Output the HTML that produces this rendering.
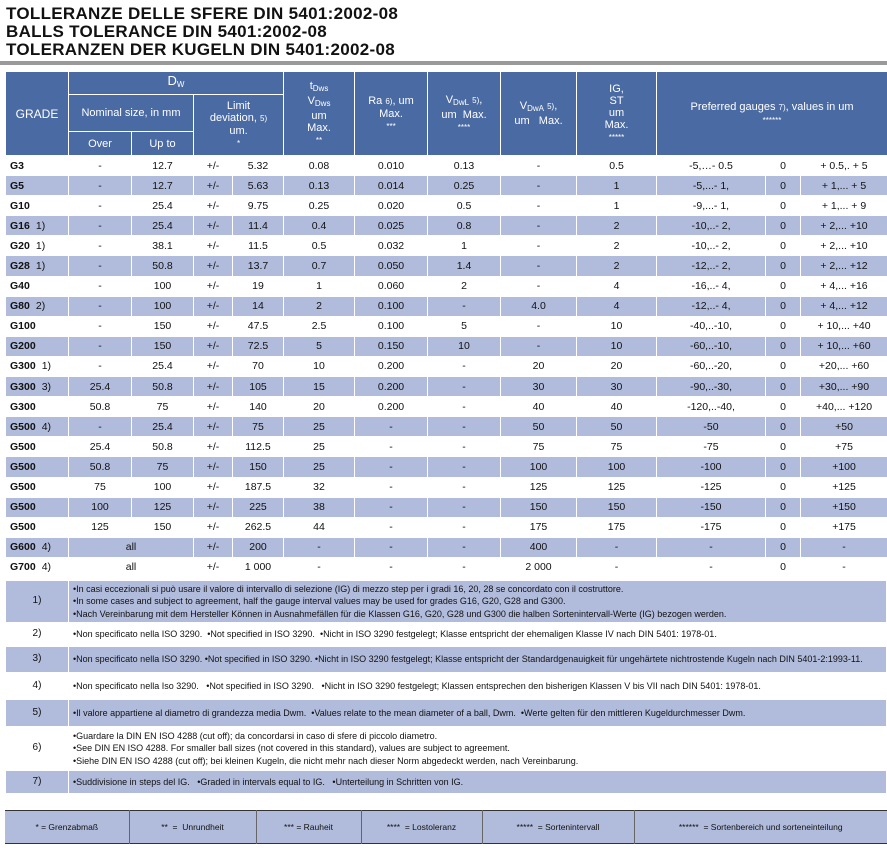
<!DOCTYPE html>
<html><head><meta charset="utf-8">
<style>
*{margin:0;padding:0;box-sizing:border-box}
body{width:887px;height:848px;background:#fff;font-family:"Liberation Sans",sans-serif;position:relative;overflow:hidden;color:#111}
.t{position:absolute;left:6px;font-weight:bold;font-size:17px;letter-spacing:0.3px;line-height:18px}
.bar{position:absolute;left:0;top:61px;width:887px;height:4px;background:#9a9a9a}
table{border-collapse:collapse;position:absolute;table-layout:fixed}
#m{left:5px;top:71px;width:882px}
#m td,#m th{border:1px solid #fff;text-align:center;font-size:10.5px;padding:0;overflow:hidden;white-space:nowrap}
#m th{background:#4a6aa3;color:#fff;font-weight:normal;font-size:11px;line-height:12px}
#m tr.d td{height:20.1px}
#m tr.s td{background:#b1bcdc}
#m td.g{text-align:left;padding-left:4px;font-weight:bold}
#m td.g span{font-weight:normal;margin-left:6px}
sub{font-size:8px;vertical-align:-2px}
.st{font-size:8px}
#n{left:5px;top:580px;width:882px}
#n td{border:1px solid #fff;font-family:"Liberation Sans Narrow","Liberation Sans",sans-serif;font-size:9px;line-height:12.5px;white-space:nowrap;overflow:hidden}
#n td.l{width:63px;text-align:center;font-size:10px}
#n td.x{padding-left:4px}
#n tr.s td{background:#b1bcdc}
#f{left:5px;top:810px;width:882px;border-top:1.5px solid #333;border-bottom:1.5px solid #333}
#f td{background:#b1bcdc;height:33px;text-align:center;font-size:8.5px;font-family:"Liberation Sans Narrow","Liberation Sans",sans-serif;border-left:1px solid #666}
#f td:first-child{border-left:none}
</style></head><body>
<div class="t" style="top:5px">TOLLERANZE DELLE SFERE DIN 5401:2002-08</div>
<div class="t" style="top:23px">BALLS TOLERANCE DIN 5401:2002-08</div>
<div class="t" style="top:41px">TOLERANZEN DER KUGELN DIN 5401:2002-08</div>
<div class="bar"></div>
<table id="m">
<colgroup><col style="width:63px"><col style="width:63px"><col style="width:62px"><col style="width:39px"><col style="width:51px"><col style="width:71px"><col style="width:73px"><col style="width:73px"><col style="width:76px"><col style="width:80px"><col style="width:109px"><col style="width:35px"><col style="width:87px"></colgroup>
<tr style="height:23px"><th rowspan="3" style="font-size:12px">GRADE</th><th colspan="4" style="font-size:13px">D<sub>W</sub></th><th rowspan="3">t<sub>Dws</sub><br>V<sub>Dws</sub><br>um<br>Max.<br><span class="st">**</span></th><th rowspan="3">Ra <span class="st">6)</span>, um<br>Max.<br><span class="st">***</span></th><th rowspan="3">V<sub>DwL</sub> <span class="st">5)</span>,<br>um &nbsp;Max.<br><span class="st">****</span></th><th rowspan="3">V<sub>DwA</sub> <span class="st">5)</span>,<br>um &nbsp; Max.</th><th rowspan="3">IG,<br>ST<br>um<br>Max.<br><span class="st">*****</span></th><th rowspan="3" colspan="3">Preferred gauges <span class="st">7)</span>, values in um<br><span class="st">******</span></th></tr>
<tr style="height:37px"><th colspan="2">Nominal size, in mm</th><th colspan="2" rowspan="2">Limit<br>deviation, <span class="st">5)</span><br>um.<br><span class="st">*</span></th></tr>
<tr style="height:24px"><th>Over</th><th>Up to</th></tr>
<tr class="d"><td class="g">G3</td><td>-</td><td>12.7</td><td>+/-</td><td>5.32</td><td>0.08</td><td>0.010</td><td>0.13</td><td>-</td><td>0.5</td><td>-5,…- 0.5</td><td>0</td><td>+ 0.5,. + 5</td></tr>
<tr class="d s"><td class="g">G5</td><td>-</td><td>12.7</td><td>+/-</td><td>5.63</td><td>0.13</td><td>0.014</td><td>0.25</td><td>-</td><td>1</td><td>-5,...- 1,</td><td>0</td><td>+ 1,... + 5</td></tr>
<tr class="d"><td class="g">G10</td><td>-</td><td>25.4</td><td>+/-</td><td>9.75</td><td>0.25</td><td>0.020</td><td>0.5</td><td>-</td><td>1</td><td>-9,...- 1,</td><td>0</td><td>+ 1,... + 9</td></tr>
<tr class="d s"><td class="g">G16<span>1)</span></td><td>-</td><td>25.4</td><td>+/-</td><td>11.4</td><td>0.4</td><td>0.025</td><td>0.8</td><td>-</td><td>2</td><td>-10,..- 2,</td><td>0</td><td>+ 2,... +10</td></tr>
<tr class="d"><td class="g">G20<span>1)</span></td><td>-</td><td>38.1</td><td>+/-</td><td>11.5</td><td>0.5</td><td>0.032</td><td>1</td><td>-</td><td>2</td><td>-10,..- 2,</td><td>0</td><td>+ 2,... +10</td></tr>
<tr class="d s"><td class="g">G28<span>1)</span></td><td>-</td><td>50.8</td><td>+/-</td><td>13.7</td><td>0.7</td><td>0.050</td><td>1.4</td><td>-</td><td>2</td><td>-12,..- 2,</td><td>0</td><td>+ 2,... +12</td></tr>
<tr class="d"><td class="g">G40</td><td>-</td><td>100</td><td>+/-</td><td>19</td><td>1</td><td>0.060</td><td>2</td><td>-</td><td>4</td><td>-16,..- 4,</td><td>0</td><td>+ 4,... +16</td></tr>
<tr class="d s"><td class="g">G80<span>2)</span></td><td>-</td><td>100</td><td>+/-</td><td>14</td><td>2</td><td>0.100</td><td>-</td><td>4.0</td><td>4</td><td>-12,..- 4,</td><td>0</td><td>+ 4,... +12</td></tr>
<tr class="d"><td class="g">G100</td><td>-</td><td>150</td><td>+/-</td><td>47.5</td><td>2.5</td><td>0.100</td><td>5</td><td>-</td><td>10</td><td>-40,..-10,</td><td>0</td><td>+ 10,... +40</td></tr>
<tr class="d s"><td class="g">G200</td><td>-</td><td>150</td><td>+/-</td><td>72.5</td><td>5</td><td>0.150</td><td>10</td><td>-</td><td>10</td><td>-60,..-10,</td><td>0</td><td>+ 10,... +60</td></tr>
<tr class="d"><td class="g">G300<span>1)</span></td><td>-</td><td>25.4</td><td>+/-</td><td>70</td><td>10</td><td>0.200</td><td>-</td><td>20</td><td>20</td><td>-60,..-20,</td><td>0</td><td>+20,... +60</td></tr>
<tr class="d s"><td class="g">G300<span>3)</span></td><td>25.4</td><td>50.8</td><td>+/-</td><td>105</td><td>15</td><td>0.200</td><td>-</td><td>30</td><td>30</td><td>-90,..-30,</td><td>0</td><td>+30,... +90</td></tr>
<tr class="d"><td class="g">G300</td><td>50.8</td><td>75</td><td>+/-</td><td>140</td><td>20</td><td>0.200</td><td>-</td><td>40</td><td>40</td><td>-120,..-40,</td><td>0</td><td>+40,... +120</td></tr>
<tr class="d s"><td class="g">G500<span>4)</span></td><td>-</td><td>25.4</td><td>+/-</td><td>75</td><td>25</td><td>-</td><td>-</td><td>50</td><td>50</td><td>-50</td><td>0</td><td>+50</td></tr>
<tr class="d"><td class="g">G500</td><td>25.4</td><td>50.8</td><td>+/-</td><td>112.5</td><td>25</td><td>-</td><td>-</td><td>75</td><td>75</td><td>-75</td><td>0</td><td>+75</td></tr>
<tr class="d s"><td class="g">G500</td><td>50.8</td><td>75</td><td>+/-</td><td>150</td><td>25</td><td>-</td><td>-</td><td>100</td><td>100</td><td>-100</td><td>0</td><td>+100</td></tr>
<tr class="d"><td class="g">G500</td><td>75</td><td>100</td><td>+/-</td><td>187.5</td><td>32</td><td>-</td><td>-</td><td>125</td><td>125</td><td>-125</td><td>0</td><td>+125</td></tr>
<tr class="d s"><td class="g">G500</td><td>100</td><td>125</td><td>+/-</td><td>225</td><td>38</td><td>-</td><td>-</td><td>150</td><td>150</td><td>-150</td><td>0</td><td>+150</td></tr>
<tr class="d"><td class="g">G500</td><td>125</td><td>150</td><td>+/-</td><td>262.5</td><td>44</td><td>-</td><td>-</td><td>175</td><td>175</td><td>-175</td><td>0</td><td>+175</td></tr>
<tr class="d s"><td class="g">G600<span>4)</span></td><td colspan="2">all</td><td>+/-</td><td>200</td><td>-</td><td>-</td><td>-</td><td>400</td><td>-</td><td>-</td><td>0</td><td>-</td></tr>
<tr class="d"><td class="g">G700<span>4)</span></td><td colspan="2">all</td><td>+/-</td><td>1 000</td><td>-</td><td>-</td><td>-</td><td>2 000</td><td>-</td><td>-</td><td>0</td><td>-</td></tr>
</table>
<table id="n">
<tr class="s" style="height:42px"><td class="l">1)</td><td class="x">•In casi eccezionali si può usare il valore di intervallo di selezione (IG) di mezzo step per i gradi 16, 20, 28 se concordato con il costruttore.<br>•In some cases and subject to agreement, half the gauge interval values may be used for grades G16, G20, G28 and G300.<br>•Nach Vereinbarung mit dem Hersteller Können in Ausnahmefällen für die Klassen G16, G20, G28 und G300 die halben Sortenintervall-Werte (IG) bezogen werden.</td></tr>
<tr style="height:24px"><td class="l">2)</td><td class="x">•Non specificato nella ISO 3290. &nbsp;•Not specified in ISO 3290. &nbsp;•Nicht in ISO 3290 festgelegt; Klasse entspricht der ehemaligen Klasse IV nach DIN 5401: 1978-01.</td></tr>
<tr class="s" style="height:26px"><td class="l">3)</td><td class="x">•Non specificato nella ISO 3290. •Not specified in ISO 3290. •Nicht in ISO 3290 festgelegt; Klasse entspricht der Standardgenauigkeit für ungehärtete nichtrostende Kugeln nach DIN 5401-2:1993-11.</td></tr>
<tr style="height:27px"><td class="l">4)</td><td class="x">•Non specificato nella Iso 3290. &nbsp; •Not specified in ISO 3290. &nbsp; •Nicht in ISO 3290 festgelegt; Klassen entsprechen den bisherigen Klassen V bis VII nach DIN 5401: 1978-01.</td></tr>
<tr class="s" style="height:27px"><td class="l">5)</td><td class="x">•Il valore appartiene al diametro di grandezza media Dwm. &nbsp;•Values relate to the mean diameter of a ball, Dwm. &nbsp;•Werte gelten für den mittleren Kugeldurchmesser Dwm.</td></tr>
<tr style="height:44px"><td class="l">6)</td><td class="x">•Guardare la DIN EN ISO 4288 (cut off); da concordarsi in caso di sfere di piccolo diametro.<br>•See DIN EN ISO 4288. For smaller ball sizes (not covered in this standard), values are subject to agreement.<br>•Siehe DIN EN ISO 4288 (cut off); bei kleinen Kugeln, die nicht mehr nach dieser Norm abgedeckt werden, nach Vereinbarung.</td></tr>
<tr class="s" style="height:23px"><td class="l">7)</td><td class="x">•Suddivisione in steps del IG. &nbsp; •Graded in intervals equal to IG. &nbsp; •Unterteilung in Schritten von IG.</td></tr>
</table>
<table id="f">
<tr><td style="width:124px">* = Grenzabmaß</td><td style="width:127px">** &nbsp;= &nbsp;Unrundheit</td><td style="width:105px">*** = Rauheit</td><td style="width:121px">**** &nbsp;= Lostoleranz</td><td style="width:152px">***** &nbsp;= Sortenintervall</td><td>****** &nbsp;= Sortenbereich und sorteneinteilung</td></tr>
</table>
</body></html>
